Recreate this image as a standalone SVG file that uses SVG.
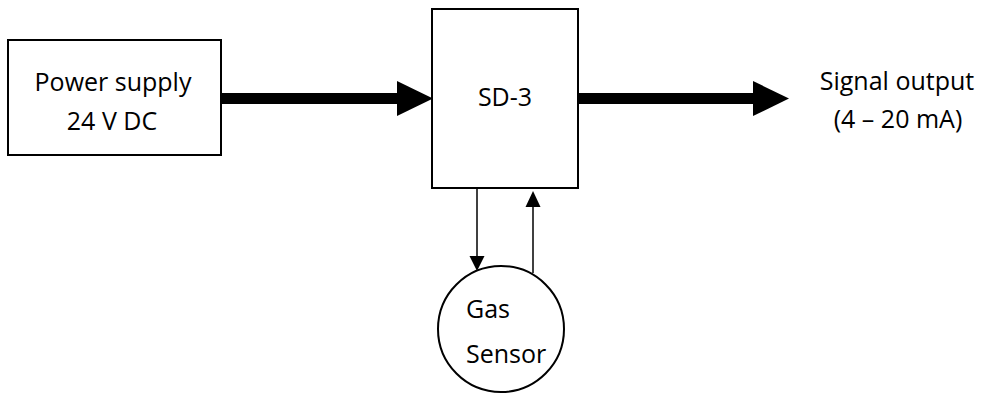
<svg xmlns="http://www.w3.org/2000/svg" width="985" height="394" viewBox="0 0 985 394">
<style>
.box{fill:#fff;stroke:#000;stroke-width:2}
.t{font-family:"Open Sans","Liberation Sans",sans-serif;font-size:25px;fill:#000}
.m{text-anchor:middle}
.thin{stroke:#000;stroke-width:1.5;fill:none}
.head{fill:#000}
</style>
<defs>
<marker id="ah" markerWidth="10" markerHeight="10" refX="10" refY="5" orient="auto" markerUnits="userSpaceOnUse" viewBox="0 0 10 10">
<path d="M0,0 L10,5 L0,10 Z" fill="#000"/>
</marker>
</defs>
<rect width="985" height="394" fill="#fff"/>
<g id="connectors">
  <g id="power-to-sd3">
    <rect x="222" y="93" width="176" height="11" class="head"/>
    <path d="M397,81 L433,98.5 L397,116 Z" class="head"/>
  </g>
  <g id="sd3-to-output">
    <rect x="579" y="93" width="175" height="11" class="head"/>
    <path d="M753,81 L789,98.5 L753,116 Z" class="head"/>
  </g>
  <g id="sd3-to-sensor">
    <line x1="477" y1="189" x2="477" y2="257" class="thin"/>
    <path d="M469.5,256 L484.5,256 L477,271 Z" class="head"/>
  </g>
  <g id="sensor-to-sd3">
    <line x1="533" y1="273" x2="533" y2="206" class="thin"/>
    <path d="M525.5,207 L540.5,207 L533,191 Z" class="head"/>
  </g>
</g>
<g id="power-supply">
  <rect x="8" y="40" width="213" height="115" class="box"/>
  <text x="113" y="91" class="t m">Power supply</text>
  <text x="112" y="130" class="t m">24 V DC</text>
</g>
<g id="sd3">
  <rect x="432" y="9" width="146" height="179" class="box"/>
  <text x="505" y="106" class="t m">SD-3</text>
</g>
<g id="signal-output">
  <text x="897" y="90" class="t m">Signal output</text>
  <text x="898" y="128" class="t m">(4 – 20 mA)</text>
</g>
<g id="gas-sensor">
  <circle cx="501" cy="329" r="63" class="box"/>
  <text x="466" y="318" class="t">Gas</text>
  <text x="466" y="363" class="t">Sensor</text>
</g>
</svg>
